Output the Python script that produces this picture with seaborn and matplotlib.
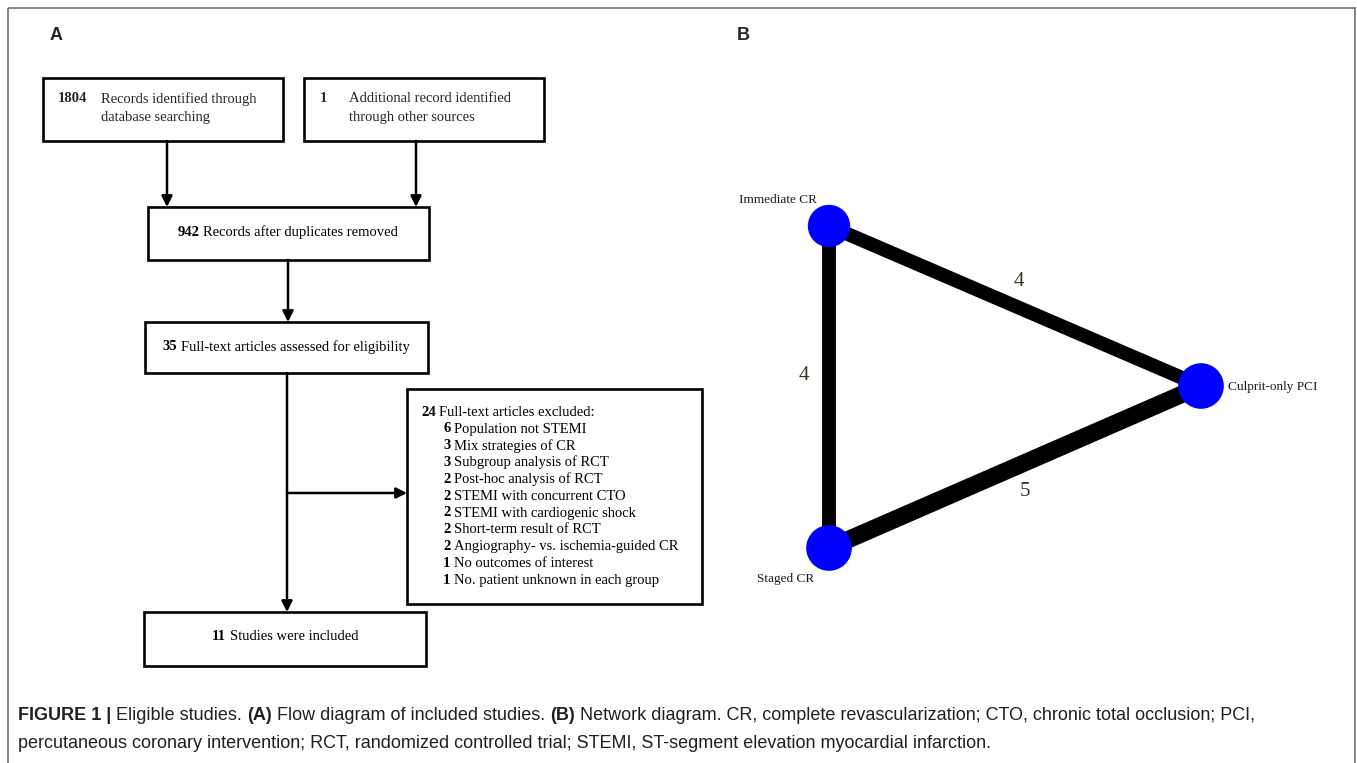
#!/usr/bin/env python3
"""Flow diagram (A) and treatment network (B) for the STEMI revascularization meta-analysis."""

import matplotlib

matplotlib.use("Agg")

import matplotlib.pyplot as plt
import pandas as pd
import seaborn as sns
from matplotlib.patches import Rectangle

sns.set_theme(style="white")
plt.rcParams["font.family"] = ["Liberation Serif", "DejaVu Serif"]

# ---- data -------------------------------------------------------------
n_database = 1804
n_other = 1
n_after_dup = 942
n_assessed = 35
n_excluded = 24
n_included = 11

exclusion_counts = [6, 3, 3, 2, 2, 2, 2, 2, 1, 1]
exclusion_reasons = [
    "Population not STEMI",
    "Mix strategies of CR",
    "Subgroup analysis of RCT",
    "Post-hoc analysis of RCT",
    "STEMI with concurrent CTO",
    "STEMI with cardiogenic shock",
    "Short-term result of RCT",
    "Angiography- vs. ischemia-guided CR",
    "No outcomes of interest",
    "No. patient unknown in each group",
]

treatments = ["Immediate CR", "Culprit-only PCI", "Staged CR"]
edge_from = ["Immediate CR", "Immediate CR", "Staged CR"]
edge_to = ["Culprit-only PCI", "Staged CR", "Culprit-only PCI"]
edge_studies = [4, 4, 5]

# ---- layout (pixel coordinates, y grows downwards) ---------------------
W, H = 1357, 763
node_pos = {
    "Immediate CR": (829, 226),
    "Culprit-only PCI": (1201, 386),
    "Staged CR": (829, 548),
}
node_size = {"Immediate CR": 930, "Culprit-only PCI": 1080, "Staged CR": 1080}
label_pos = {
    "Immediate CR": (817, 200, "right"),
    "Culprit-only PCI": (1228, 387, "left"),
    "Staged CR": (757, 579, "left"),
}
edge_label_pos = [(1019, 281), (804, 376), (1025, 491)]

SERIF = ["Liberation Serif", "DejaVu Serif"]
SANS = ["Liberation Sans", "DejaVu Sans"]

fig = plt.figure(figsize=(W / 100, H / 100), dpi=100)
ax = fig.add_axes([0, 0, 1, 1])
ax.set_xlim(0, W)
ax.set_ylim(H, 0)
ax.axis("off")
renderer = fig.canvas.get_renderer()


def text_width(s, size, family, weight="normal"):
    t = ax.text(0, 0, s, fontsize=size, family=family, weight=weight)
    w = t.get_window_extent(renderer).width
    t.remove()
    return w


def rich_text(x, y, pieces, size, family, ha="left", color="black"):
    """Draw a line made of (text, weight) pieces separated by single spaces."""
    space = text_width("a a", size, family) - text_width("aa", size, family)
    widths = [text_width(s, size, family, w) for s, w in pieces]
    total = sum(widths) + space * (len(pieces) - 1)
    cur = x - total / 2 if ha == "center" else x
    for (s, w), wd in zip(pieces, widths):
        ax.text(cur, y, s, fontsize=size, family=family, weight=w,
                ha="left", va="center", color=color)
        cur += wd + space


def box(x0, y0, x1, y1):
    ax.add_patch(Rectangle((x0, y0), x1 - x0, y1 - y0, fill=False,
                           lw=1.9, edgecolor="black", zorder=3))


def arrow(x0, y0, x1, y1):
    ax.annotate("", xy=(x1, y1), xytext=(x0, y0),
                arrowprops=dict(arrowstyle="-|>", lw=1.8, color="black",
                                mutation_scale=16, shrinkA=0, shrinkB=0))


# outer frame
ax.add_patch(Rectangle((8, 8), 1347, 800, fill=False, lw=1.2,
                       edgecolor="#707070", clip_on=False))

# panel letters
ax.text(50, 35, "A", fontsize=13, weight="bold", family=SANS, va="center")
ax.text(737, 35, "B", fontsize=13, weight="bold", family=SANS, va="center")

# ---- panel A: flow diagram ---------------------------------------------
fs = 10.5
box(43, 78, 283, 141)
ax.text(58, 99, str(n_database), fontsize=fs, weight="bold", family=SERIF, va="center")
ax.text(101, 99, "Records identified through", fontsize=fs, family=SERIF, va="center")
ax.text(101, 117, "database searching", fontsize=fs, family=SERIF, va="center")

box(304, 78, 544, 141)
ax.text(320, 99, str(n_other), fontsize=fs, weight="bold", family=SERIF, va="center")
ax.text(349, 99, "Additional record identified", fontsize=fs, family=SERIF, va="center")
ax.text(349, 117, "through other sources", fontsize=fs, family=SERIF, va="center")

arrow(167, 141, 167, 207)
arrow(416, 141, 416, 207)

box(148, 207, 429, 260)
rich_text(288, 232, [(str(n_after_dup), "bold"), ("Records after duplicates removed", "normal")],
          fs, SERIF, ha="center")

arrow(288, 260, 288, 322)

box(145, 322, 428, 373)
rich_text(286, 347, [(str(n_assessed), "bold"), ("Full-text articles assessed for eligibility", "normal")],
          fs, SERIF, ha="center")

arrow(287, 373, 287, 612)
arrow(287, 493, 407, 493)

box(407, 389, 702, 604)
rich_text(421, 412, [(str(n_excluded), "bold"), ("Full-text articles excluded:", "normal")], fs, SERIF)
for i, (cnt, reason) in enumerate(zip(exclusion_counts, exclusion_reasons)):
    rich_text(443, 429 + i * 16.8, [(str(cnt), "bold"), (reason, "normal")], fs, SERIF)

box(144, 612, 426, 666)
rich_text(285, 637, [(str(n_included), "bold"), ("Studies were included", "normal")],
          fs, SERIF, ha="center")

# ---- panel B: network diagram -------------------------------------------
edges = pd.DataFrame({"src": edge_from, "dst": edge_to, "studies": edge_studies})
for (_, e), (lx, ly) in zip(edges.iterrows(), edge_label_pos):
    (x0, y0), (x1, y1) = node_pos[e["src"]], node_pos[e["dst"]]
    ax.plot([x0, x1], [y0, y1], color="black", lw=e["studies"] * 2.5,
            solid_capstyle="butt", zorder=4)
    ax.text(lx, ly, str(e["studies"]), fontsize=15, family=SERIF, color="#3a3222",
            ha="center", va="center")

nodes = pd.DataFrame({
    "treatment": treatments,
    "x": [node_pos[t][0] for t in treatments],
    "y": [node_pos[t][1] for t in treatments],
    "size": [node_size[t] for t in treatments],
})
sns.scatterplot(data=nodes, x="x", y="y", s=nodes["size"], color="#0000ff",
                edgecolor="none", ax=ax, zorder=5, legend=False)
ax.set_xlim(0, W)
ax.set_ylim(H, 0)
ax.axis("off")
for t in treatments:
    lx, ly, ha = label_pos[t]
    ax.text(lx, ly, t, fontsize=9.5, family=SERIF, ha=ha, va="center", color="#1a1a1a")

# ---- caption -------------------------------------------------------------
cap_fs = 13
cap_col = "#231f20"
rich_text(18, 715, [
    ("FIGURE 1 |", "bold"),
    ("Eligible studies.", "normal"),
    ("(A)", "bold"),
    ("Flow diagram of included studies.", "normal"),
    ("(B)", "bold"),
    ("Network diagram. CR, complete revascularization; CTO, chronic total occlusion; PCI,", "normal"),
], cap_fs, SANS, color=cap_col)
ax.text(18, 743, "percutaneous coronary intervention; RCT, randomized controlled trial; "
        "STEMI, ST-segment elevation myocardial infarction.",
        fontsize=cap_fs, family=SANS, va="center", color=cap_col)

fig.savefig("out.png", dpi=100)
